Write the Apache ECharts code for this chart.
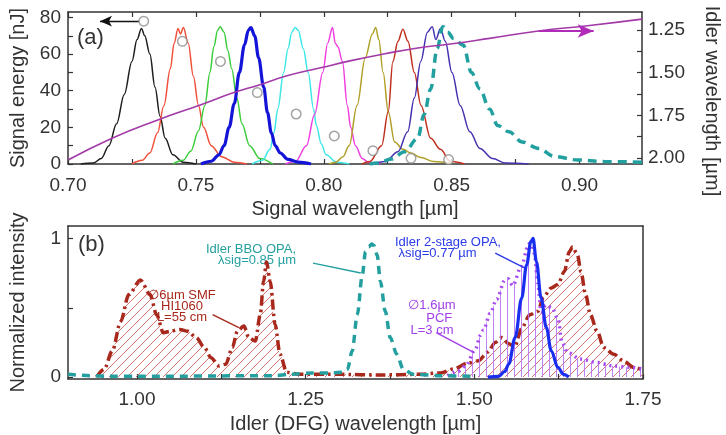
<!DOCTYPE html>
<html><head><meta charset="utf-8">
<script src="https://cdn.jsdelivr.net/npm/echarts@6/dist/echarts.min.js"></script>
<style>html,body{margin:0;padding:0;background:#fff}#c{width:726px;height:435px}</style>
</head><body><div id="c"></div>
<script>
// ---------- Panel (a): signal spectra [wavelength µm, energy-scaled intensity] ----------
const specBlack = [[0.705,0],[0.710,0.5],[0.713,3],[0.716,10],[0.719,22],[0.722,38],[0.725,56],[0.727,68],[0.7287,74],[0.730,70],[0.732,60],[0.734,42],[0.736,26],[0.738,14],[0.741,5],[0.745,1],[0.750,0]];
const specRed = [[0.725,0],[0.729,2],[0.732,6],[0.735,17],[0.7375,32],[0.740,52],[0.7415,66],[0.743,74],[0.744,71],[0.7451,74.5],[0.747,66],[0.749,48],[0.751,32],[0.753,20],[0.756,10],[0.760,4],[0.765,1],[0.770,0]];
const specGreen = [[0.741,0],[0.745,2],[0.748,7],[0.751,18],[0.7535,32],[0.7555,50],[0.757,64],[0.7585,73],[0.7595,75],[0.761,72],[0.7625,62],[0.764,52],[0.766,36],[0.768,22],[0.771,10],[0.775,3],[0.780,0]];
const specBlue = [[0.752,0],[0.756,1.5],[0.759,5],[0.761,10],[0.763,20],[0.765,33],[0.767,50],[0.769,65],[0.7705,73],[0.7715,74.5],[0.773,70],[0.7745,58],[0.7765,42],[0.778,28],[0.7795,17],[0.781,10],[0.783,6],[0.786,2.5],[0.790,1],[0.795,0]];
const specCyan = [[0.772,0],[0.776,2],[0.779,8],[0.7805,17],[0.782,30],[0.7843,50],[0.786,63],[0.7875,72],[0.7888,74.5],[0.790,73],[0.792,63],[0.7939,50],[0.796,30],[0.7971,21],[0.799,11],[0.8009,5],[0.805,1],[0.810,0]];
const specMagenta = [[0.785,0],[0.789,1.5],[0.7932,10],[0.7964,27],[0.7996,50],[0.8015,66],[0.8034,74.5],[0.8045,66],[0.8055,64],[0.8073,56],[0.8092,32],[0.8105,20],[0.8124,10],[0.8150,3],[0.8175,1],[0.822,0]];
const specOlive = [[0.802,0],[0.8047,1],[0.8075,4],[0.8099,10],[0.813,32],[0.8162,58],[0.819,71],[0.8203,74.5],[0.8215,68],[0.8232,50],[0.8252,28.5],[0.8277,12],[0.831,8],[0.834,6],[0.838,3.5],[0.843,1.3],[0.850,0.3]];
const specDarkRed = [[0.815,0],[0.818,1.3],[0.8226,10],[0.8252,28.5],[0.827,56],[0.829,67],[0.8309,73.6],[0.8329,67],[0.8354,50],[0.838,32],[0.8418,14],[0.8456,8],[0.8494,1.5],[0.855,0]];
const specNavy = [[0.820,0],[0.8239,1.3],[0.829,6.7],[0.8328,17.6],[0.8354,36],[0.8379,56],[0.8405,72],[0.8424,75],[0.8438,68],[0.8456,74],[0.8475,67],[0.8501,50],[0.8533,32],[0.8571,17.6],[0.861,8.5],[0.866,3],[0.8711,0.5],[0.880,0]];
const specTeal = [[0.818,0],[0.821,0.5],[0.8264,2.7],[0.8316,6.7],[0.8367,14],[0.8392,27],[0.8418,41],[0.8443,63],[0.8465,75],[0.8485,72],[0.8507,68.5],[0.8545,65],[0.8577,50],[0.861,41],[0.8648,30],[0.868,21],[0.8724,17.6],[0.8775,12],[0.884,8.5],[0.8903,4],[0.8992,2.2],[0.9095,1.3],[0.9244,1]];

// signal energy points
const energyWl = [0.7296,0.7447,0.7596,0.7740,0.7892,0.8041,0.8192,0.8341,0.8488];
const energyNJ = [78,67,56,39,27.3,15.3,7.3,3.1,2.4];

// idler wavelength vs signal wavelength (right axis)
const idlerSigWl = [0.700,0.7172,0.7351,0.7517,0.7651,0.7747,0.7856,0.7983,0.8111,0.8239,0.8367,0.8494,0.8648,0.8839,0.9031,0.9244];
const idlerWl    = [2.012,1.884,1.777,1.689,1.615,1.572,1.518,1.473,1.428,1.389,1.355,1.332,1.299,1.256,1.225,1.186];

// tick values
const sigLabelTicks = [0.70,0.75,0.80,0.85,0.90];
const sigMinorTicks = [0.70,0.725,0.75,0.775,0.80,0.825,0.85,0.875,0.90];
const energyLabelTicks = [0,20,40,60,80];
const energyMinorTicks = [0,10,20,30,40,50,60,70,80];
const idlerLabelTicks = [1.25,1.50,1.75,2.00];
const idlerMinorTicks = [1.25,1.375,1.50,1.625,1.75,1.875,2.00];

// ---------- Panel (b): idler spectra [wavelength µm, normalized intensity] ----------
const smfSpec = [[0.94,0],[0.9513,0.057],[0.9635,0.19],[0.9757,0.40],[0.9878,0.595],[1.005,0.70],[1.0195,0.595],[1.029,0.45],[1.039,0.32],[1.0487,0.33],[1.0633,0.344],[1.0756,0.33],[1.0877,0.285],[1.0999,0.213],[1.1096,0.14],[1.1218,0.08],[1.1316,0.093],[1.1413,0.213],[1.1487,0.33],[1.1584,0.368],[1.1657,0.285],[1.1754,0.26],[1.1827,0.45],[1.1876,0.69],[1.192,0.83],[1.1974,0.69],[1.2047,0.38],[1.212,0.165],[1.2218,0.034],[1.24,0.02],[1.30,0.02],[1.36,0.015],[1.42,0.02],[1.45,0.03],[1.47,0.06],[1.49,0.10],[1.506,0.117],[1.52,0.18],[1.531,0.25],[1.541,0.285],[1.551,0.24],[1.56,0.22],[1.57,0.35],[1.5823,0.45],[1.5945,0.475],[1.6018,0.571],[1.614,0.643],[1.6238,0.667],[1.6335,0.762],[1.6408,0.905],[1.6457,0.94],[1.653,0.88],[1.658,0.76],[1.665,0.595],[1.672,0.45],[1.682,0.33],[1.692,0.213],[1.7066,0.165],[1.721,0.117],[1.736,0.07],[1.75,0.05]];
const bboSpec = [[0.8977,0.02],[0.93,0.01],[0.96,0.005],[1.0,0.005],[1.2,0.01],[1.23,0.02],[1.26,0.03],[1.29,0.03],[1.305,0.035],[1.312,0.057],[1.319,0.19],[1.3265,0.45],[1.334,0.74],[1.3387,0.905],[1.3436,0.94],[1.348,0.96],[1.351,0.95],[1.356,0.88],[1.3607,0.69],[1.368,0.475],[1.3753,0.285],[1.385,0.165],[1.3947,0.057],[1.409,0.02],[1.45,0.01],[1.50,0.005]];
const pcfSpec = [[1.46,0.01],[1.475,0.04],[1.487,0.08],[1.5015,0.2],[1.509,0.3],[1.5136,0.34],[1.5234,0.46],[1.533,0.56],[1.5453,0.70],[1.55,0.71],[1.557,0.66],[1.5697,0.80],[1.5794,0.94],[1.584,0.99],[1.589,0.89],[1.594,0.68],[1.599,0.47],[1.606,0.52],[1.615,0.50],[1.624,0.42],[1.630,0.25],[1.638,0.18],[1.657,0.13],[1.682,0.105],[1.706,0.08],[1.731,0.07],[1.75,0.057]];
const opaSpec = [[1.52,0],[1.536,0.005],[1.545,0.04],[1.551,0.093],[1.5605,0.285],[1.5702,0.57],[1.5775,0.81],[1.5838,0.977],[1.587,1.0],[1.592,0.834],[1.599,0.57],[1.6067,0.356],[1.614,0.19],[1.6238,0.07],[1.632,0.02],[1.64,0]];

const idlerLabelTicksB = [1.00,1.25,1.50,1.75];
const idlerMinorTicksB = [1.00,1.125,1.25,1.375,1.50,1.625,1.75];
const normLabelTicks = [0,1];
const normMinorTicks = [0,0.5,1];

// ---------- chart ----------
const FONT = 'Liberation Sans, Arial, sans-serif';
const TXT = '#333';
function hatch(color, kind){
  const s = kind === 'diag' ? 9 : 7;
  const c = document.createElement('canvas'); c.width = s; c.height = s;
  const g = c.getContext('2d'); g.strokeStyle = color; g.lineWidth = 1; g.beginPath();
  if (kind === 'diag') { g.moveTo(-1, s+1); g.lineTo(s+1, -1); g.moveTo(-1, 1); g.lineTo(1, -1); g.moveTo(s-1, s+1); g.lineTo(s+1, s-1); }
  else { g.moveTo(3.5, 0); g.lineTo(3.5, s); }
  g.stroke(); return c;
}
const frameLine = {show:true, onZero:false, lineStyle:{color:'#333', width:1.5}};
const tickStyle = {color:'#333', width:1.2};
function spec(data, color, width, extra){
  return Object.assign({type:'line', xAxisIndex:0, yAxisIndex:0, data:data, showSymbol:false, smooth:0.35, smoothMonotone:'x',
    lineStyle:{color:color, width:width}, itemStyle:{color:color}, silent:true, z:2}, extra||{});
}
const noLabel = {show:false};
const chart = echarts.init(document.getElementById('c'), null, {renderer:'canvas'});
chart.setOption({
  animation:false,
  backgroundColor:'#fff',
  textStyle:{fontFamily:FONT},
  grid:[
    {left:60, top:12, width:582, height:152},
    {left:60, top:226, width:583, height:154}
  ],
  xAxis:[
    {gridIndex:0, type:'value', min:0.70, max:0.9244, position:'bottom', axisLine:frameLine,
     axisTick:{inside:true, length:5, customValues:sigMinorTicks, lineStyle:tickStyle},
     axisLabel:{customValues:sigLabelTicks, formatter:v=>v.toFixed(2), fontSize:19, color:TXT, margin:12, fontFamily:FONT},
     splitLine:{show:false}, name:'Signal wavelength [µm]', nameLocation:'middle', nameGap:35,
     nameTextStyle:{fontSize:20, color:TXT, fontFamily:FONT}},
    {gridIndex:0, type:'value', min:0.70, max:0.9244, position:'top', axisLine:frameLine,
     axisTick:{inside:true, length:5, customValues:sigMinorTicks, lineStyle:tickStyle},
     axisLabel:{show:false}, splitLine:{show:false}},
    {gridIndex:1, type:'value', min:0.8977, max:1.75, position:'bottom', axisLine:frameLine,
     axisTick:{inside:true, length:5, customValues:idlerMinorTicksB, lineStyle:tickStyle},
     axisLabel:{customValues:idlerLabelTicksB, formatter:v=>v.toFixed(2), fontSize:19, color:TXT, margin:11, fontFamily:FONT},
     splitLine:{show:false}, name:'Idler (DFG) wavelength [µm]', nameLocation:'middle', nameGap:35,
     nameTextStyle:{fontSize:20, color:TXT, fontFamily:FONT}},
    {gridIndex:1, type:'value', min:0.8977, max:1.75, position:'top', axisLine:frameLine,
     axisTick:{show:false}, axisLabel:{show:false}, splitLine:{show:false}}
  ],
  yAxis:[
    {gridIndex:0, type:'value', min:0, max:83, position:'left', axisLine:frameLine,
     axisTick:{inside:true, length:5, customValues:energyMinorTicks, lineStyle:tickStyle},
     axisLabel:{customValues:energyLabelTicks, fontSize:19, color:TXT, margin:7, fontFamily:FONT},
     splitLine:{show:false}, name:'Signal energy [nJ]', nameLocation:'middle', nameGap:40,
     nameTextStyle:{fontSize:20, color:TXT, fontFamily:FONT}},
    {gridIndex:0, type:'value', min:1.1445, max:2.035, inverse:true, position:'right', axisLine:frameLine,
     axisTick:{inside:true, length:5, customValues:idlerMinorTicks, lineStyle:tickStyle},
     axisLabel:{customValues:idlerLabelTicks, formatter:v=>v.toFixed(2), fontSize:19, color:TXT, margin:6, fontFamily:FONT},
     splitLine:{show:false}},
    {gridIndex:1, type:'value', min:-0.014, max:1.09, position:'left', axisLine:frameLine,
     axisTick:{inside:true, length:5, customValues:normMinorTicks, lineStyle:tickStyle},
     axisLabel:{customValues:normLabelTicks, fontSize:19, color:TXT, margin:7, fontFamily:FONT},
     splitLine:{show:false}, name:'Normalized intensity', nameLocation:'middle', nameGap:40,
     nameTextStyle:{fontSize:20, color:TXT, fontFamily:FONT}},
    {gridIndex:1, type:'value', min:-0.014, max:1.09, position:'right', axisLine:frameLine,
     axisTick:{show:false}, axisLabel:{show:false}, splitLine:{show:false}}
  ],
  series:[
    spec(specBlack, '#1e1e1e', 1.5),
    spec(specRed, '#f0503c', 1.5),
    spec(specGreen, '#3ccc3c', 1.5),
    spec(specCyan, '#3ee6e6', 1.5),
    spec(specMagenta, '#f040e0', 1.5),
    spec(specOlive, '#b0a02a', 1.5),
    spec(specDarkRed, '#c0301e', 1.5),
    spec(specNavy, '#4632b0', 1.5),
    spec(specBlue, '#1414d8', 3.2),
    spec(specTeal, '#22a0a0', 3.5, {lineStyle:{color:'#22a0a0', width:3.5, type:[9,6]}}),
    {type:'line', xAxisIndex:0, yAxisIndex:1, data:idlerSigWl.map((x,i)=>[x, idlerWl[i]]), showSymbol:false, smooth:0.5,
     lineStyle:{color:'#a23aa8', width:1.6}, silent:true, z:3,
     markLine:{silent:true, symbol:['none','arrow'], symbolSize:[10,16], label:noLabel,
       lineStyle:{color:'#b02cb8', width:1.8, type:'solid'},
       data:[[{coord:[0.884,1.256]},{coord:[0.9055,1.256]}]]}},
    {type:'scatter', xAxisIndex:0, yAxisIndex:0, data:energyWl.map((x,i)=>[x, energyNJ[i]]), symbol:'circle', symbolSize:9.5,
     itemStyle:{color:'#fff', borderColor:'#8c8c8c', borderWidth:1.5}, silent:true, z:5,
     markLine:{silent:true, symbol:['none','arrow'], symbolSize:[8,12], label:noLabel,
       lineStyle:{color:'#111', width:1.3, type:'solid'},
       data:[[{coord:[0.7280,78]},{coord:[0.7125,78]}]]}},

    // panel (b)
    {type:'line', xAxisIndex:2, yAxisIndex:2, data:smfSpec, showSymbol:false, smooth:0.3, smoothMonotone:'x', silent:true, z:2,
     lineStyle:{color:'#a8281c', width:3.5, type:[10,4,2.5,4]},
     areaStyle:{color:{image:hatch('rgba(205,95,85,0.85)','diag'), repeat:'repeat'}, opacity:1},
     markLine:{silent:true, symbol:['none','none'], label:noLabel, lineStyle:{color:'#a8281c', width:1.4, type:'solid'},
       data:[[{coord:[1.112,0.45]},{coord:[1.151,0.356]}]]}},
    {type:'line', xAxisIndex:2, yAxisIndex:2, data:pcfSpec, showSymbol:false, smooth:0.3, smoothMonotone:'x', silent:true, z:3,
     lineStyle:{color:'#a64cf0', width:3.5, type:[2,4]},
     areaStyle:{color:{image:hatch('rgba(185,115,245,0.9)','vert'), repeat:'repeat'}, opacity:1},
     markLine:{silent:true, symbol:['none','none'], label:noLabel, lineStyle:{color:'#a040e8', width:1.4, type:'solid'},
       data:[[{coord:[1.4435,0.32]},{coord:[1.4996,0.177]}]]}},
    {type:'line', xAxisIndex:2, yAxisIndex:2, data:bboSpec, showSymbol:false, smooth:0.3, smoothMonotone:'x', silent:true, z:4,
     lineStyle:{color:'#249f9f', width:3.5, type:[8,6]},
     markLine:{silent:true, symbol:['none','none'], label:noLabel, lineStyle:{color:'#249f9f', width:1.4, type:'solid'},
       data:[[{coord:[1.2609,0.822]},{coord:[1.3316,0.751]}]]}},
    {type:'line', xAxisIndex:2, yAxisIndex:2, data:opaSpec, showSymbol:false, smooth:0.35, smoothMonotone:'x', silent:true, z:5,
     lineStyle:{color:'#1a2ef0', width:3.2},
     markLine:{silent:true, symbol:['none','none'], label:noLabel, lineStyle:{color:'#2a3ae8', width:1.4, type:'solid'},
       data:[[{coord:[1.531,0.894]},{coord:[1.575,0.786]}]]}}
  ],
  graphic:[
    {type:'text', x:712, y:101, rotation:-Math.PI/2, silent:true,
     style:{text:'Idler wavelength [µm]', font:'20px '+FONT, fill:TXT, align:'center', verticalAlign:'middle'}},
    {type:'text', x:77, y:38, silent:true, style:{text:'(a)', font:'22px '+FONT, fill:TXT, verticalAlign:'middle'}},
    {type:'text', x:78, y:245, silent:true, style:{text:'(b)', font:'22px '+FONT, fill:TXT, verticalAlign:'middle'}},
    {type:'text', x:296, y:255, silent:true, style:{text:'Idler BBO OPA,\nλsig=0.85 µm', font:'13px '+FONT, lineHeight:11, fill:'#249f9f', align:'right', verticalAlign:'middle'}},
    {type:'text', x:395, y:247.5, silent:true, style:{text:'Idler 2-stage OPA,\n λsig=0.77 µm', font:'13px '+FONT, lineHeight:11, fill:'#2a3ae8', align:'left', verticalAlign:'middle'}},
    {type:'text', x:432, y:318, silent:true, style:{text:'∅1.6µm\n    PCF\nL=3 cm', font:'13px '+FONT, lineHeight:12.5, fill:'#a040e8', align:'center', verticalAlign:'middle'}},
    {type:'text', x:182, y:306, silent:true, style:{text:'∅6µm SMF\nHI1060\nL=55 cm', font:'13px '+FONT, lineHeight:11, fill:'#a8281c', align:'center', verticalAlign:'middle'}}
  ]
});
</script>
</body></html>
